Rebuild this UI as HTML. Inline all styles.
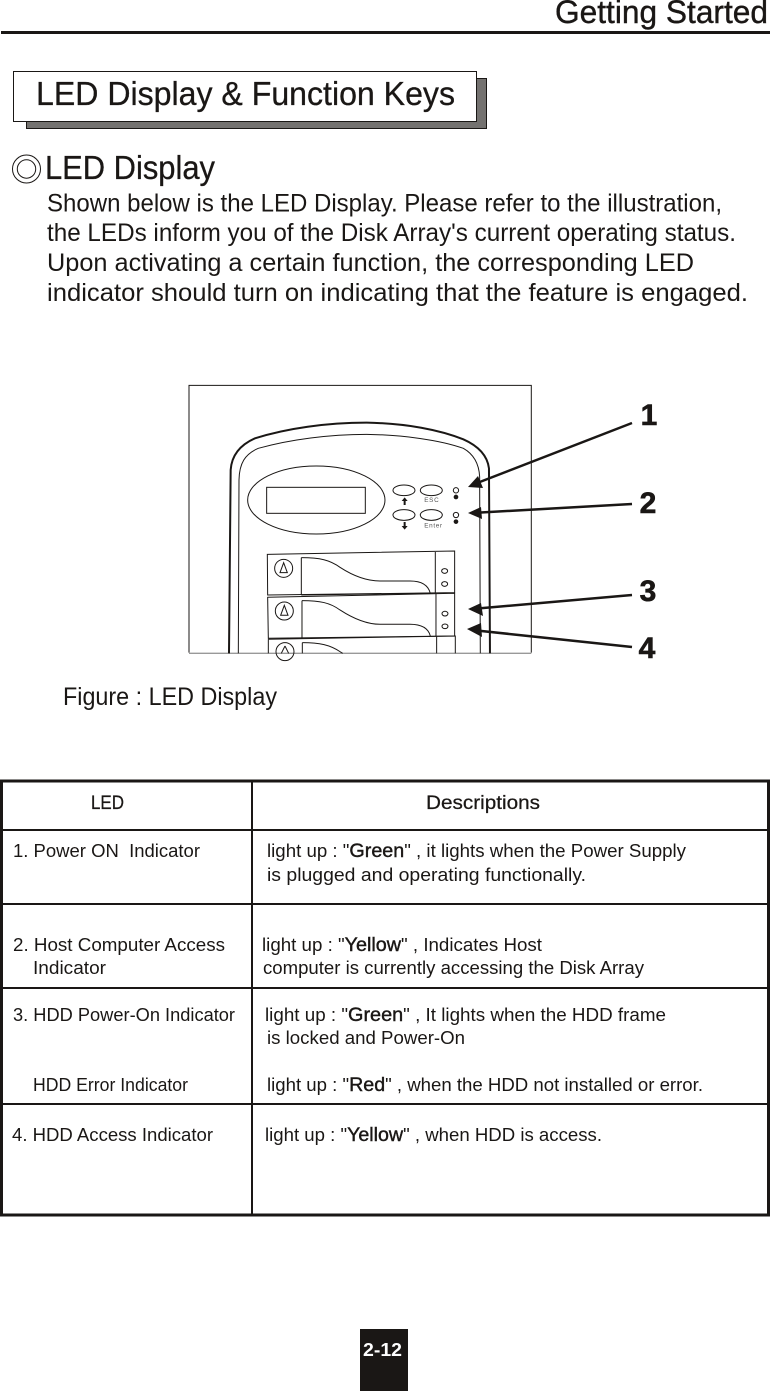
<!DOCTYPE html>
<html><head><meta charset="utf-8"><title>LED Display &amp; Function Keys</title>
<style>
html,body{margin:0;padding:0;background:#fff;width:770px;height:1391px;overflow:hidden}
svg{display:block}
text{font-family:"Liberation Sans",sans-serif;fill:#1a1715}
.t{font-size:18px}
.h{font-size:19px;stroke:#1a1715;stroke-width:.25px}
.k{font-size:19px;stroke:#1a1715;stroke-width:.4px}
.p{font-size:25px}
</style></head><body>
<svg width="770" height="1391" viewBox="0 0 770 1391" xmlns="http://www.w3.org/2000/svg">
<rect width="770" height="1391" fill="#fff"/>
<!-- header -->
<text x="555" y="23" font-size="32" textLength="213" lengthAdjust="spacingAndGlyphs" stroke="#1a1715" stroke-width=".4">Getting Started</text>
<rect x="1" y="31" width="769" height="3" fill="#1a1715"/>
<!-- title box -->
<rect x="26.5" y="78.5" width="460" height="50" fill="#747270" stroke="#1a1715"/>
<rect x="13.5" y="71.5" width="463" height="50" fill="#fff" stroke="#1a1715"/>
<text x="36" y="105" font-size="33" textLength="419" lengthAdjust="spacingAndGlyphs" stroke="#1a1715" stroke-width=".3">LED Display &amp; Function Keys</text>
<!-- LED display heading -->
<circle cx="26.5" cy="169" r="14" fill="none" stroke="#1a1715" stroke-width="1"/>
<circle cx="26.5" cy="169" r="9.2" fill="none" stroke="#1a1715" stroke-width="1"/>
<text x="45" y="179" font-size="33" textLength="170" lengthAdjust="spacingAndGlyphs" stroke="#1a1715" stroke-width=".3">LED Display</text>
<text class="p" x="47" y="211.5" textLength="675" lengthAdjust="spacingAndGlyphs">Shown below is the LED Display. Please refer to the illustration,</text>
<text class="p" x="47" y="241" textLength="689" lengthAdjust="spacingAndGlyphs">the LEDs inform you of the Disk Array's current operating status.</text>
<text class="p" x="47" y="271" textLength="647" lengthAdjust="spacingAndGlyphs">Upon activating a certain function, the corresponding LED</text>
<text class="p" x="47" y="301" textLength="701" lengthAdjust="spacingAndGlyphs">indicator should turn on indicating that the feature is engaged.</text>
<!-- figure -->
<g transform="translate(180,380) scale(.3333)" fill="none" stroke="#1a1715">
<path d="M27 818V16H1054V818" stroke-width="3"/>
<path d="M27 820H1054" stroke="#999" stroke-width="4"/>
<path d="M147 820L152 270C155 225 180 195 225 175C320 145 440 128 560 128C680 130 780 150 850 178C895 198 922 225 927 265L930 820" stroke-width="6"/>
<path d="M175 820L177 300C178 250 195 222 235 205C330 178 450 163 560 163C670 165 780 180 850 205C880 222 897 250 899 290L901 820" stroke-width="3"/>
<ellipse cx="409" cy="360" rx="206" ry="102" stroke-width="3"/>
<rect x="260" y="322" width="296" height="78" stroke-width="3"/>
<ellipse cx="672" cy="331" rx="33" ry="16" stroke-width="3"/>
<ellipse cx="754" cy="331" rx="33" ry="16" stroke-width="3"/>
<ellipse cx="672" cy="405" rx="33" ry="16" stroke-width="3"/>
<ellipse cx="754" cy="405" rx="33" ry="16" stroke-width="3"/>
<path d="M674 352l-9 11h6v12h6v-12h6zM674 449l-9-11h6v-12h6v12h6z" fill="#1a1715" stroke="none"/>
<circle cx="828" cy="331" r="8" stroke-width="3"/>
<circle cx="828" cy="405" r="8" stroke-width="3"/>
<circle cx="828" cy="351" r="7" fill="#1a1715" stroke="none"/>
<circle cx="828" cy="425" r="7" fill="#1a1715" stroke="none"/>
<path d="M262 523L824 513V638L263 645Z" stroke-width="3"/>
<path d="M364 533V645M766 516V640" stroke-width="3"/>
<path d="M364 533C420 533 450 540 480 562C520 588 560 603 600 603H690C725 603 745 615 751 640L364 645" stroke-width="3"/>
<circle cx="311" cy="565" r="27" stroke-width="3"/>
<path d="M311 548L300 578H322Z" stroke-width="3"/>
<ellipse cx="794" cy="573" rx="9" ry="7" stroke-width="3"/>
<ellipse cx="794" cy="612" rx="9" ry="7" stroke-width="3"/>
<path d="M263 652L824 640V768L265 775Z" stroke-width="3"/>
<path d="M366 662V773M768 642V768" stroke-width="3"/>
<path d="M366 662C420 662 450 668 480 690C520 716 560 733 600 733H690C725 733 745 745 751 768" stroke-width="3"/>
<circle cx="313" cy="693" r="27" stroke-width="3"/>
<path d="M313 676L302 706H324Z" stroke-width="3"/>
<ellipse cx="795" cy="701" rx="9" ry="7" stroke-width="3"/>
<ellipse cx="795" cy="739" rx="9" ry="7" stroke-width="3"/>
<path d="M265 778L826 768V820M265 778V820M367 788V820M770 770V820" stroke-width="3"/>
<path d="M367 788C420 788 450 795 480 815L488 820" stroke-width="3"/>
<circle cx="315" cy="815" r="27" stroke-width="3"/>
<path d="M315 798L304 820M315 798L326 820" stroke-width="3"/>
<text x="733" y="366" font-size="19" letter-spacing="2" stroke="none" style="fill:#555">ESC</text>
<text x="733" y="443" font-size="19" letter-spacing="2" stroke="none" style="fill:#555">Enter</text>
</g>
<!-- arrows -->
<g fill="#1a1715" stroke="#1a1715">
<path d="M632 423L472 485" stroke-width="2.5" fill="none"/>
<path d="M468 487L478 476L483 488Z" stroke="none"/>
<path d="M632 504L472 513" stroke-width="2.5" fill="none"/>
<path d="M468 513L481 507L482 519Z" stroke="none"/>
<path d="M632 595L472 609" stroke-width="2.5" fill="none"/>
<path d="M468 609L481 603L483 616Z" stroke="none"/>
<path d="M632 647L472 630" stroke-width="2.5" fill="none"/>
<path d="M467 629L481 623L482 637Z" stroke="none"/>
</g>
<g font-size="30" font-weight="bold" text-anchor="middle" stroke="#1a1715" stroke-width=".6">
<text x="649" y="425">1</text>
<text x="648" y="513">2</text>
<text x="648" y="601">3</text>
<text x="647" y="658">4</text>
</g>
<text x="63" y="705" font-size="25" textLength="214" lengthAdjust="spacingAndGlyphs">Figure : LED Display</text>
<!-- table -->
<g fill="none" stroke="#1a1715">
<rect x="1.5" y="781" width="767" height="434" stroke-width="3"/>
<path d="M252 781V1215" stroke-width="2"/>
<path d="M1 830H769M1 904H769M1 988H769M1 1104H769" stroke-width="2"/>
</g>
<text class="h" x="91" y="809" textLength="33" lengthAdjust="spacingAndGlyphs">LED</text>
<text class="h" x="426" y="809" textLength="114" lengthAdjust="spacingAndGlyphs">Descriptions</text>
<text class="t" x="13" y="857" textLength="187" lengthAdjust="spacingAndGlyphs" xml:space="preserve">1. Power ON  Indicator</text>
<text class="t" x="267" y="857" textLength="419" lengthAdjust="spacingAndGlyphs">light up : "<tspan class="k">Green</tspan>" , it lights when the Power Supply</text>
<text class="t" x="267" y="881" textLength="319" lengthAdjust="spacingAndGlyphs">is plugged and operating functionally.</text>
<text class="t" x="13" y="951" textLength="212" lengthAdjust="spacingAndGlyphs">2. Host Computer Access</text>
<text class="t" x="33" y="974" textLength="73" lengthAdjust="spacingAndGlyphs">Indicator</text>
<text class="t" x="262" y="951" textLength="280" lengthAdjust="spacingAndGlyphs">light up : "<tspan class="k">Yellow</tspan>" , Indicates Host</text>
<text class="t" x="263" y="974" textLength="381" lengthAdjust="spacingAndGlyphs">computer is currently accessing the Disk Array</text>
<text class="t" x="13" y="1021" textLength="222" lengthAdjust="spacingAndGlyphs">3. HDD Power-On Indicator</text>
<text class="t" x="265" y="1021" textLength="401" lengthAdjust="spacingAndGlyphs">light up : "<tspan class="k">Green</tspan>" , It lights when the HDD frame</text>
<text class="t" x="267" y="1044" textLength="198" lengthAdjust="spacingAndGlyphs">is locked and Power-On</text>
<text class="t" x="33" y="1091" textLength="155" lengthAdjust="spacingAndGlyphs">HDD Error Indicator</text>
<text class="t" x="267" y="1091" textLength="436" lengthAdjust="spacingAndGlyphs">light up : "<tspan class="k">Red</tspan>" , when the HDD not installed or error.</text>
<text class="t" x="12" y="1141" textLength="201" lengthAdjust="spacingAndGlyphs">4. HDD Access Indicator</text>
<text class="t" x="265" y="1141" textLength="337" lengthAdjust="spacingAndGlyphs">light up : "<tspan class="k">Yellow</tspan>" , when HDD is access.</text>
<!-- page number -->
<rect x="360" y="1329" width="48" height="62" fill="#1a1715"/>
<text x="363" y="1356" font-size="18" font-weight="bold" textLength="39" lengthAdjust="spacingAndGlyphs" style="fill:#fff">2-12</text>
</svg>
</body></html>
